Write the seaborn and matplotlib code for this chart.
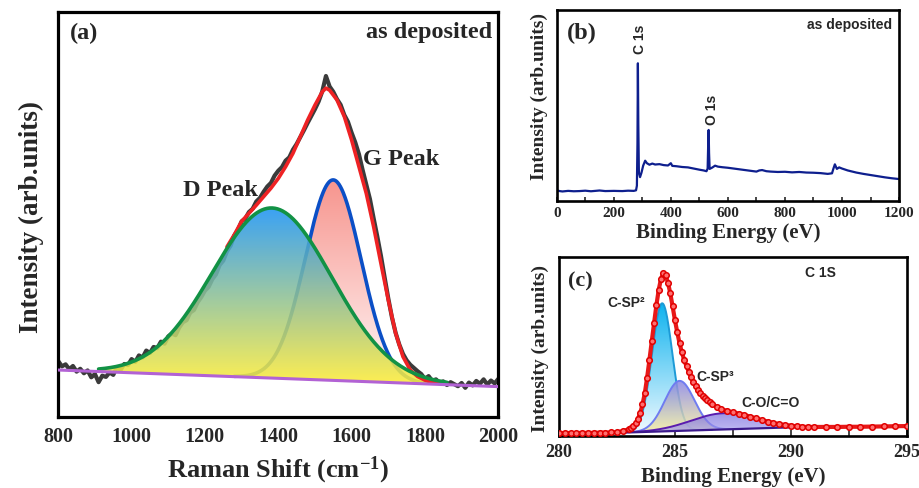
import numpy as np
import matplotlib
matplotlib.use("Agg")
import matplotlib.pyplot as plt
import seaborn as sns
from matplotlib.colors import LinearSegmentedColormap
from matplotlib.ticker import MultipleLocator

# ---------------- (a) Raman spectrum ----------------
raman_x = list(range(800, 2001, 10))
raman_y = [13.8, 12.5, 13.0, 11.8, 12.6, 11.2, 11.9, 10.8, 11.5, 9.8,
           10.6, 8.6, 10.2, 9.9, 11.0, 10.4, 12.3, 11.6, 13.1, 12.8,
           14.3, 13.6, 15.2, 14.7, 16.4, 15.8, 17.3, 17.0, 18.6, 18.1,
           19.9, 20.6, 20.2, 22.1, 23.4, 23.9, 25.8, 26.4, 28.3, 29.6,
           31.2, 32.1, 34.0, 35.2, 37.5, 38.6, 40.9, 42.3, 44.8, 46.2,
           48.3, 49.0, 50.6, 51.4, 53.2, 54.1, 55.6, 56.9, 57.8, 59.6,
           60.8, 61.7, 63.3, 64.1, 66.0, 67.4, 69.1, 70.8, 72.6, 74.3,
           76.0, 77.9, 80.4, 84.2, 81.6, 80.3, 78.5, 77.1, 74.6, 72.9,
           70.2, 67.8, 64.9, 61.0, 57.4, 53.8, 49.1, 44.6, 39.8, 34.5,
           29.3, 24.6, 20.8, 17.9, 15.6, 14.0, 12.9, 12.1, 11.3, 10.6,
           9.4, 10.1, 8.9, 9.3, 8.4, 8.8, 7.9, 8.6, 8.1, 7.6,
           8.4, 7.2, 8.5, 7.8, 8.9, 8.2, 9.3, 8.0, 9.0, 8.3, 9.4]

# cumulative fit (red)
fit_x = [1260, 1280, 1300, 1320, 1340, 1360, 1380, 1400, 1420, 1440, 1460,
         1480, 1500, 1520, 1530, 1540, 1560, 1580, 1600, 1620, 1640, 1660,
         1680, 1700, 1720, 1740, 1760, 1780, 1800, 1820, 1840, 1860]
fit_y = [42.0, 45.0, 48.3, 50.3, 52.3, 54.4, 56.5, 58.9, 61.8, 65.1, 69.2,
         73.3, 77.0, 80.3, 81.2, 80.7, 78.3, 74.2, 68.4, 61.8, 55.2, 47.0,
         37.9, 28.9, 20.7, 14.9, 11.6, 10.0, 9.1, 8.5, 8.3, 8.1]

# fitted bands: centre, width (sigma), height above background
d_band = [1383, 163, 42.0]
g_band = [1550, 76, 49.5]
raman_bg_x = [800, 2000]
raman_bg_y = [11.6, 7.5]

# ---------------- (b) XPS survey ----------------
survey_x = [0, 10, 20, 40, 60, 80, 100, 120, 150, 170, 200, 230, 250, 270,
            278, 281, 283, 284.5, 286, 288, 292, 297, 303, 310, 316, 325,
            335, 345, 360, 375, 390, 400, 405, 420, 440, 460, 480, 500, 515,
            525, 529, 531, 532.5, 534, 536, 545, 555, 565, 580, 600, 620, 640,
            660, 680, 700, 710, 720, 735, 750, 775, 800, 825, 850, 875, 900,
            925, 950, 965, 970, 975, 982, 990, 1000, 1020, 1050, 1075, 1100,
            1125, 1150, 1175, 1200]
survey_y = [5.6, 5.2, 5.0, 5.3, 5.1, 5.2, 5.4, 5.1, 5.5, 5.2, 5.3, 5.2, 5.4,
            5.3, 5.6, 8.0, 30.0, 72.1, 40.0, 15.0, 12.5, 14.8, 18.5, 21.1,
            19.8, 19.0, 19.6, 19.1, 19.3, 18.8, 18.6, 19.8, 18.4, 18.2, 17.8,
            17.6, 17.0, 16.4, 16.0, 15.6, 17.0, 30.0, 37.2, 25.0, 16.8, 17.5,
            18.5, 18.0, 17.7, 17.4, 17.0, 16.6, 16.2, 15.8, 15.4, 16.0, 16.2,
            15.6, 15.4, 15.2, 15.3, 15.0, 15.2, 14.9, 14.8, 14.6, 14.2, 14.5,
            17.0, 19.2, 16.8, 17.6, 17.0, 16.0, 14.9, 14.2, 13.6, 13.0, 12.4,
            11.9, 11.5]

# ---------------- (c) C 1s high resolution ----------------
c1s_x = [280.0, 280.25, 280.5, 280.75, 281.0, 281.25, 281.5, 281.75, 282.0,
         282.25, 282.5, 282.75, 283.0, 283.1, 283.2, 283.3, 283.4, 283.5,
         283.6, 283.7, 283.8, 283.9, 284.0, 284.1, 284.2, 284.3, 284.4, 284.5,
         284.6, 284.7, 284.8, 284.9, 285.0, 285.1, 285.2, 285.3, 285.4, 285.5,
         285.6, 285.7, 285.8, 285.9, 286.0, 286.1, 286.2, 286.3, 286.4, 286.5,
         286.6, 286.8, 287.0, 287.25, 287.5, 287.75, 288.0, 288.25, 288.5,
         288.75, 289.0, 289.25, 289.5, 289.75, 290.0, 290.25, 290.5, 290.75,
         291.0, 291.5, 292.0, 292.5, 293.0, 293.5, 294.0, 294.5, 295.0]
c1s_y = [1.5, 1.5, 1.5, 1.5, 1.6, 1.6, 1.6, 1.7, 1.7,
         1.8, 2.0, 2.5, 3.6, 4.3, 5.4, 6.9, 9.3, 12.5,
         17.5, 23.7, 32.5, 42.4, 52.8, 63.0, 73.0, 81.7, 88.0, 91.0,
         90.0, 85.8, 79.8, 72.5, 64.9, 58.0, 51.8, 46.8, 42.4, 38.9,
         35.9, 33.0, 30.3, 27.9, 25.6, 23.9, 22.3, 20.9, 19.8, 18.7,
         17.8, 16.2, 14.8, 13.9, 13.1, 12.4, 11.6, 10.7, 9.7,
         8.8, 7.9, 7.1, 6.5, 6.0, 5.6, 5.3, 5.0, 4.9,
         4.9, 4.9, 4.9, 5.0, 5.0, 5.1, 5.2, 5.3, 5.4]

c1s_names = ["C-SP²", "C-SP³", "C-O/C=O"]
c1s_centre = [284.45, 285.2, 287.1]
c1s_sigma = [0.44, 0.64, 1.4]
c1s_height = [71.8, 28.0, 9.1]
c1s_range = [(283.0, 286.6), (283.3, 287.4), (283.0, 290.8)]
c1s_bg_x = [282.7, 290.8]
c1s_bg_y = [1.7, 5.0]


def gauss(x, c, s, h):
    return h * np.exp(-(x - c) ** 2 / (2 * s * s))


def line_bg(x, bx, by):
    return by[0] + (by[1] - by[0]) * (x - bx[0]) / (bx[1] - bx[0])


def grad_fill(ax, x, top, bottom, c_top, c_bot, alpha=1.0, z=2):
    poly = ax.fill_between(x, bottom, top, facecolor="none", edgecolor="none", zorder=z)
    cmap = LinearSegmentedColormap.from_list("grad", [c_bot, c_top])
    ramp = np.linspace(0, 1, 256).reshape(-1, 1)
    im = ax.imshow(ramp, cmap=cmap, aspect="auto", origin="lower",
                   extent=[x.min(), x.max(), np.min(bottom), np.max(top)],
                   alpha=alpha, zorder=z, interpolation="bilinear")
    im.set_clip_path(poly.get_paths()[0], transform=ax.transData)


sns.set_theme(style="white")
plt.rcParams["font.family"] = ["Liberation Serif", "DejaVu Serif"]
plt.rcParams["font.weight"] = "bold"
plt.rcParams["axes.labelweight"] = "bold"
plt.rcParams["mathtext.fontset"] = "custom"
plt.rcParams["mathtext.rm"] = "Liberation Serif:bold"
plt.rcParams["mathtext.default"] = "rm"
SANS = ["Liberation Sans", "DejaVu Sans"]

fig = plt.figure(figsize=(9.19, 4.88), dpi=100)
ax_a = fig.add_axes([0.0634, 0.1455, 0.4788, 0.8299])
ax_b = fig.add_axes([0.6058, 0.5881, 0.3725, 0.3914])
ax_c = fig.add_axes([0.6083, 0.1072, 0.3783, 0.3656])

# ---- panel (a) ----
ax = ax_a
sns.lineplot(x=raman_x, y=raman_y, ax=ax, color="#3b3b3b", lw=3.0, zorder=2)

xg = np.linspace(1280, 1800, 400)
bg_g = line_bg(xg, raman_bg_x, raman_bg_y)
g_top = bg_g + gauss(xg, *g_band)
grad_fill(ax, xg, g_top, bg_g, "#f7958e", "#fff8f8", z=3)
ax.plot(xg, g_top, color="#0b4fc6", lw=2.6, zorder=4)

xd = np.linspace(910, 1860, 400)
bg_d = line_bg(xd, raman_bg_x, raman_bg_y)
d_top = bg_d + gauss(xd, *d_band)
grad_fill(ax, xd, d_top, bg_d, "#1f95f3", "#ffee3a", alpha=0.88, z=5)
sns.lineplot(x=fit_x, y=fit_y, ax=ax, color="#ee2224", lw=2.6, zorder=6)
ax.plot(xd, d_top, color="#129245", lw=2.6, zorder=7)
ax.plot(raman_bg_x, raman_bg_y, color="#b262d4", lw=2.2, zorder=8)

ax.set_xlim(800, 2000)
ax.set_ylim(0, 100)
ax.set_yticks([])
ax.xaxis.set_major_locator(MultipleLocator(200))
ax.tick_params(axis="x", length=0, pad=7, labelsize=14.5)
ax.set_xlabel("Raman Shift (cm$^{-1}$)", fontsize=19, va="top")
ax.xaxis.set_label_coords(0.5, -0.094)
ax.set_ylabel("Intensity (arb.units)", fontsize=19.5, va="center")
ax.yaxis.set_label_coords(-0.06, 0.494)
ax.text(870, 94.7, "(a)", fontsize=17.5, ha="center", va="center")
ax.text(1982, 95, "as deposited", fontsize=17.5, ha="right", va="center")
ax.text(1242, 55.9, "D Peak", fontsize=17.5, ha="center", va="center", zorder=9)
ax.text(1736, 63.6, "G Peak", fontsize=17.5, ha="center", va="center")
for s in ax.spines.values():
    s.set_linewidth(2.3)
    s.set_color("black")

# ---- panel (b) ----
ax = ax_b
sns.lineplot(x=survey_x, y=survey_y, ax=ax, color="#0e1f8e", lw=1.6)
ax.set_xlim(0, 1200)
ax.set_ylim(0, 100)
ax.set_yticks([])
ax.xaxis.set_major_locator(MultipleLocator(200))
ax.xaxis.set_minor_locator(MultipleLocator(100))
ax.tick_params(axis="x", which="both", direction="in", bottom=True, length=3,
               width=1.2, pad=4, labelsize=11)
ax.set_xlabel("Binding Energy (eV)", fontsize=15, va="top")
ax.xaxis.set_label_coords(0.5, -0.115)
ax.set_ylabel("Intensity (arb.units)", fontsize=14, va="center")
ax.yaxis.set_label_coords(-0.05, 0.545)
ax.text(88, 87.8, "(b)", fontsize=17.5, ha="center", va="center")
ax.text(1175, 92.1, "as deposited", fontsize=10, ha="right", va="center", family=SANS)
ax.text(292, 84.8, "C 1s", fontsize=10, rotation=90, ha="center", va="center", family=SANS)
ax.text(544, 47.6, "O 1s", fontsize=10, rotation=90, ha="center", va="center", family=SANS)
for s in ax.spines.values():
    s.set_linewidth(1.9)
    s.set_color("black")

# ---- panel (c) ----
ax = ax_c
fills = [("#0cb2ee", "#eef9ff", 1.0), ("#8682e6", "#f6efa0", 0.85), ("#7466da", "#a79ff0", 0.7)]
lines = ["#1d9ad6", "#6f7cf0", "#5a1cae"]
for i in range(3):
    xc = np.linspace(c1s_range[i][0], c1s_range[i][1], 300)
    bc = line_bg(xc, c1s_bg_x, c1s_bg_y)
    tc = bc + gauss(xc, c1s_centre[i], c1s_sigma[i], c1s_height[i])
    grad_fill(ax, xc, tc, bc, fills[i][0], fills[i][1], alpha=fills[i][2], z=2 + 2 * i)
    ax.plot(xc, tc, color=lines[i], lw=1.4, zorder=3 + 2 * i)
ax.plot(c1s_bg_x, c1s_bg_y, color="#3c1a8c", lw=1.6, zorder=9)
sns.lineplot(x=c1s_x, y=c1s_y, ax=ax, color="#e81818", lw=3.0, zorder=10)
sns.scatterplot(x=c1s_x, y=c1s_y, ax=ax, marker="o", s=16, color="#ff7070",
                edgecolor="#e00000", linewidth=1.1, zorder=11)

ax.set_xlim(280, 295)
ax.set_ylim(0, 100)
ax.set_yticks([])
ax.xaxis.set_major_locator(MultipleLocator(5))
ax.xaxis.set_minor_locator(MultipleLocator(2.5))
ax.tick_params(axis="x", which="both", direction="in", bottom=True, length=4,
               width=1.2, pad=6, labelsize=13)
ax.set_xlabel("Binding Energy (eV)", fontsize=15, va="top")
ax.xaxis.set_label_coords(0.5, -0.174)
ax.set_ylabel("Intensity (arb.units)", fontsize=14, va="center")
ax.yaxis.set_label_coords(-0.055, 0.49)
ax.text(280.94, 86.4, "(c)", fontsize=16, ha="center", va="center")
ax.text(291.27, 91, "C 1S", fontsize=10, ha="center", va="center", family=SANS)
ax.text(282.88, 74.2, c1s_names[0], fontsize=10, ha="center", va="center", family=SANS)
ax.text(286.72, 33.1, c1s_names[1], fontsize=10, ha="center", va="center", family=SANS)
ax.text(289.11, 18.1, c1s_names[2], fontsize=10, ha="center", va="center", family=SANS)
for s in ax.spines.values():
    s.set_linewidth(1.9)
    s.set_color("black")

fig.savefig("out.png", dpi=100)
